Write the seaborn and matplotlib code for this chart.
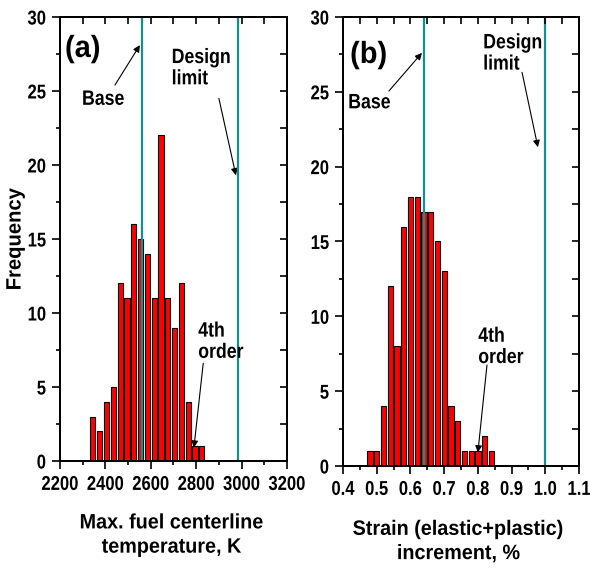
import numpy as np
import pandas as pd
import matplotlib
matplotlib.use('Agg')
import matplotlib.pyplot as plt
import seaborn as sns
from matplotlib.patheffects import AbstractPathEffect
from matplotlib.transforms import Affine2D
from matplotlib.ticker import MultipleLocator

# (a) max. fuel centerline temperature, K
temp_bins = [2345, 2375, 2405, 2435, 2465, 2495, 2525, 2555, 2585,
             2615, 2645, 2675, 2705, 2735, 2765, 2795, 2825]
temp_counts = [3, 2, 4, 5, 12, 11, 16, 15, 14, 11, 22, 11, 9, 12, 4, 1, 1]
temp_base = 2560
temp_limit = 2985
temp_ticks = [2200, 2400, 2600, 2800, 3000, 3200]
temp_labels = ['2200', '2400', '2600', '2800', '3000', '3200']

# (b) strain (elastic+plastic) increment, %
strain_bins = [0.48, 0.50, 0.52, 0.54, 0.56, 0.58, 0.60, 0.62, 0.64, 0.66,
               0.68, 0.70, 0.72, 0.74, 0.76, 0.78, 0.80, 0.82, 0.84]
strain_counts = [1, 1, 4, 12, 8, 16, 18, 18, 17, 17, 15, 13, 4, 3, 1, 1, 1, 2, 1]
strain_base = 0.64
strain_limit = 1.0
strain_ticks = [0.4, 0.5, 0.6, 0.7, 0.8, 0.9, 1.0, 1.1]
strain_labels = ['0.4', '0.5', '0.6', '0.7', '0.8', '0.9', '1.0', '1.1']

freq_ticks = [0, 5, 10, 15, 20, 25, 30]
freq_labels = ['0', '5', '10', '15', '20', '25', '30']

TEAL = '#128f8f'


class Squeeze(AbstractPathEffect):
    # narrow glyphs like Arial Narrow; anchor 0 = left, 0.5 = centre, 1 = right
    def __init__(self, sx, anchor=0.5):
        super().__init__()
        self.sx = sx
        self.anchor = anchor

    def draw_path(self, renderer, gc, tpath, affine, rgbFace=None):
        xs = tpath.vertices[:, 0]
        x0 = xs.min() + self.anchor * (xs.max() - xs.min()) if len(xs) else 0
        sq = Affine2D().translate(-x0, 0).scale(self.sx, 1).translate(x0, 0)
        renderer.draw_path(gc, tpath, sq + affine, rgbFace)


sns.set_style('ticks')
plt.rcParams['font.family'] = ['Liberation Sans', 'DejaVu Sans']
plt.rcParams['font.weight'] = 'bold'
plt.rcParams['axes.labelweight'] = 'bold'
plt.rcParams['axes.linewidth'] = 1.2
for key in ['text.color', 'axes.labelcolor', 'xtick.color', 'ytick.color',
            'axes.edgecolor']:
    plt.rcParams[key] = 'black'

fig = plt.figure(figsize=(5.9, 5.7), dpi=100)
ax_a = fig.add_axes([0.1017, 0.1912, 0.3847, 0.779])
ax_b = fig.add_axes([0.5814, 0.1825, 0.4, 0.7877])


def panel(ax, bins, counts, width, shrink, base, limit, ticks, labels, minor):
    df = pd.DataFrame({'x': bins, 'n': counts})
    sns.histplot(data=df, x='x', weights='n', binwidth=width,
                 binrange=(bins[0] - width / 2, bins[-1] + width / 2),
                 shrink=shrink, color='red', edgecolor='black', linewidth=0.8,
                 alpha=1, ax=ax)
    ax.axvline(base, color=TEAL, lw=1.6, zorder=5)
    ax.axvline(limit, color=TEAL, lw=1.6, zorder=5)
    ax.set_xlim(ticks[0], ticks[-1])
    ax.set_ylim(0, 30)
    ax.set_xticks(ticks, labels)
    ax.set_yticks(freq_ticks, freq_labels)
    ax.xaxis.set_minor_locator(MultipleLocator(minor))
    ax.yaxis.set_minor_locator(MultipleLocator(2.5))
    ax.tick_params(which='major', direction='out', length=6, width=1.2,
                   labelsize=14.4, pad=4)
    ax.tick_params(which='minor', direction='out', length=3, width=1.2)
    for sp in ax.spines.values():
        sp.set_visible(True)
    ax.set_ylabel('')

    # inward ticks on the top and right edges
    top = ax.twiny()
    top.set_xlim(ticks[0], ticks[-1])
    top.set_xticks(ticks)
    top.xaxis.set_minor_locator(MultipleLocator(minor))
    top.tick_params(which='both', direction='in', length=5, width=1.2,
                    top=True, labeltop=False)
    right = ax.twinx()
    right.set_ylim(0, 30)
    right.set_yticks(freq_ticks)
    right.yaxis.set_minor_locator(MultipleLocator(2.5))
    right.tick_params(which='both', direction='in', length=5, width=1.2,
                      right=True, labelright=False)

    for t in ax.get_xticklabels():
        t.set_path_effects([Squeeze(0.83, 0.5)])
    for t in ax.get_yticklabels():
        t.set_path_effects([Squeeze(0.83, 1)])


def note(ax, x, y, s, **kw):
    ax.text(x, y, s, transform=ax.transAxes, fontsize=15, va='top', ha='left',
            linespacing=1.15, path_effects=[Squeeze(0.85, 0)], zorder=6, **kw)


def arrow(ax, tail, head):
    ax.annotate('', xy=head, xytext=tail,
                arrowprops=dict(arrowstyle='-|>', color='black', lw=0.8,
                                mutation_scale=10, shrinkA=0, shrinkB=0))


# panel (a)
panel(ax_a, temp_bins, temp_counts, 30, 0.75, temp_base, temp_limit,
      temp_ticks, temp_labels, 100)
ax_a.text(0.022, 0.91, '(a)', transform=ax_a.transAxes, fontsize=22,
          va='baseline', path_effects=[Squeeze(0.95, 0)])
note(ax_a, 0.097, 0.836, 'Base')
note(ax_a, 0.492, 0.930, 'Design\nlimit')
note(ax_a, 0.609, 0.314, '4th\norder')
arrow(ax_a, (2442, 25.4), (2552, 28.1))
arrow(ax_a, (2900, 24.5), (2975, 19.3))
arrow(ax_a, (2831, 6.6), (2790, 0.9))
ax_a.set_xlabel('Max. fuel centerline\ntemperature, K', fontsize=15,
                linespacing=1.35)
ax_a.xaxis.set_label_coords(0.493, -0.118)
ax_a.xaxis.label.set_path_effects([Squeeze(0.95, 0.5)])
ax_a.set_ylabel('Frequency', fontsize=15, va='center')
ax_a.yaxis.set_label_coords(-0.198, 0.5)
ax_a.yaxis.label.set_path_effects([Squeeze(0.97, 0.5)])

# panel (b)
panel(ax_b, strain_bins, strain_counts, 0.02, 0.78, strain_base, strain_limit,
      strain_ticks, strain_labels, 0.05)
ax_b.text(0.03, 0.8976, '(b)', transform=ax_b.transAxes, fontsize=22,
          va='baseline', path_effects=[Squeeze(0.95, 0)])
note(ax_b, 0.022, 0.830, 'Base')
note(ax_b, 0.594, 0.9636, 'Design\nlimit')
note(ax_b, 0.573, 0.310, '4th\norder')
arrow(ax_b, (0.536, 25.05), (0.634, 27.6))
arrow(ax_b, (0.931, 26.3), (0.978, 21.3))
arrow(ax_b, (0.827, 6.75), (0.800, 0.9))
ax_b.set_xlabel('Strain (elastic+plastic)\nincrement, %', fontsize=15,
                linespacing=1.35)
ax_b.xaxis.set_label_coords(0.49, -0.12)
ax_b.xaxis.label.set_path_effects([Squeeze(0.95, 0.5)])

fig.savefig('out.png', dpi=100)
